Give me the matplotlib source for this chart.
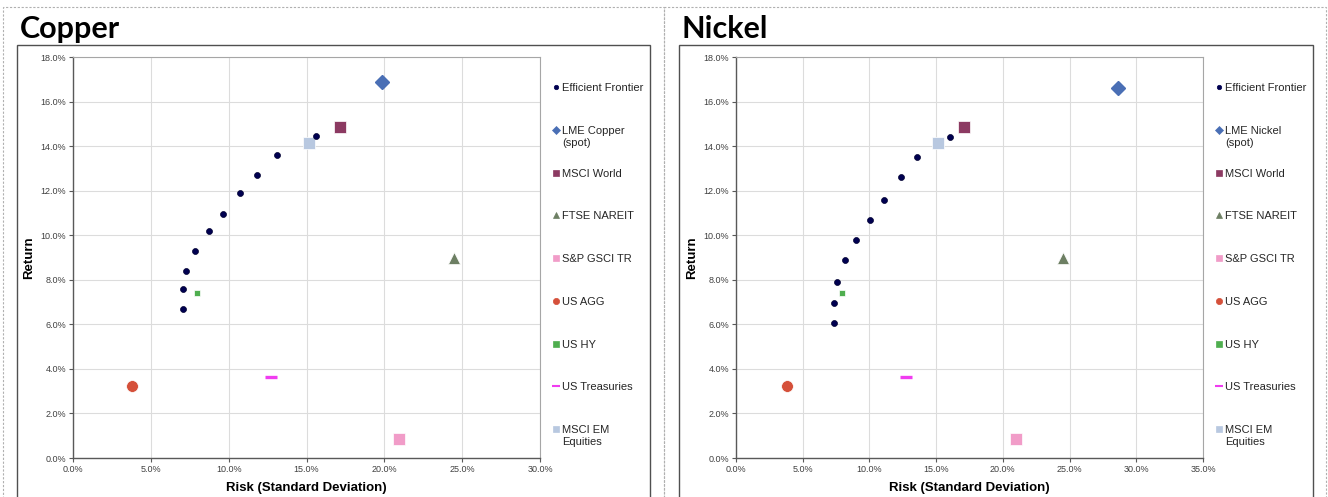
import matplotlib.pyplot as plt
import matplotlib.ticker as mticker
from matplotlib.patches import Rectangle

plt.rcParams['font.family'] = ['Liberation Sans', 'DejaVu Sans']

# risk / return in percent
cu_frontier_x = [7.05, 7.08, 7.28, 7.84, 8.73, 9.65, 10.71, 11.80, 13.12, 15.61]
cu_frontier_y = [6.70, 7.60, 8.39, 9.29, 10.17, 10.96, 11.91, 12.70, 13.60, 14.47]
ni_frontier_x = [7.31, 7.36, 7.59, 8.16, 9.03, 10.08, 11.09, 12.33, 13.56, 16.03]
ni_frontier_y = [6.07, 6.97, 7.90, 8.90, 9.80, 10.69, 11.59, 12.60, 13.50, 14.39]
cu_metal = (19.87, 16.86)
ni_metal = (28.64, 16.61)

asset_names = ['MSCI World', 'FTSE NAREIT', 'S&P GSCI TR', 'US AGG', 'US HY',
               'US Treasuries', 'MSCI EM\nEquities']
asset_risk = [17.12, 24.5, 20.97, 3.81, 7.98, 12.75, 15.15]
asset_ret = [14.84, 8.98, 0.87, 3.25, 7.39, 3.64, 14.15]

# marker, colour, size in chart, size in legend
asset_style = {
    'MSCI World': ('s', '#8c3a62', 8.5, 4.5),
    'FTSE NAREIT': ('^', '#6d7f63', 8.5, 4.5),
    'S&P GSCI TR': ('s', '#f19cc8', 8.5, 4.5),
    'US AGG': ('o', '#d5503a', 8.5, 4.5),
    'US HY': ('s', '#4fae4f', 4.0, 4.0),
    'US Treasuries': ('_', '#f03cf0', 9.0, 6.0),
    'MSCI EM\nEquities': ('s', '#b8c8e0', 8.5, 4.5),
}

panels = [
    ('Copper', 'LME Copper\n(spot)', cu_frontier_x, cu_frontier_y, cu_metal, 30, 17, 650, 73),
    ('Nickel', 'LME Nickel\n(spot)', ni_frontier_x, ni_frontier_y, ni_metal, 35, 679, 1313, 736),
]

W, H = 1328, 497
fig = plt.figure(figsize=(W / 100, H / 100), dpi=100)

# dashed panel outlines
for x0, x1 in [(3, 664), (664, 1326)]:
    fig.add_artist(Rectangle((x0 / W, -0.1), (x1 - x0) / W, (H - 7) / H + 0.1,
                             transform=fig.transFigure, fill=False,
                             ec='#b0b0b0', lw=0.8, ls=(0, (2, 1.5))))

for title, metal_name, fx, fy, metal, xmax, bx0, bx1, ax_left in panels:
    # chart box
    fig.add_artist(Rectangle((bx0 / W, -0.1), (bx1 - bx0) / W, (H - 45) / H + 0.1,
                             transform=fig.transFigure, fill=False,
                             ec='#505050', lw=1.0))
    fig.text((bx0 + 3) / W, (H - 38) / H, title, fontsize=22, fontweight='bold',
             family='Lato', ha='left', va='baseline')

    ax = fig.add_axes([ax_left / W, (H - 458) / H, 467 / W, 401 / H])
    ax.set_xlim(0, xmax)
    ax.set_ylim(0, 18)
    ax.xaxis.set_major_locator(mticker.MultipleLocator(5))
    ax.yaxis.set_major_locator(mticker.MultipleLocator(2))
    fmt = mticker.FuncFormatter(lambda v, p: f'{v:.1f}%')
    ax.xaxis.set_major_formatter(fmt)
    ax.yaxis.set_major_formatter(fmt)
    ax.grid(True, color='#dcdcdc', lw=0.8)
    ax.set_axisbelow(True)
    for s in ['top', 'right']:
        ax.spines[s].set_color('#a6a6a6')
        ax.spines[s].set_linewidth(0.8)
    for s in ['left', 'bottom']:
        ax.spines[s].set_color('#595959')
        ax.spines[s].set_linewidth(1.0)
    ax.tick_params(labelsize=6.5, labelcolor='#404040', length=3, width=0.8,
                   color='#595959', pad=2)
    ax.set_xlabel('Risk (Standard Deviation)', fontsize=9.5, fontweight='bold', labelpad=6)
    ax.set_ylabel('Return', fontsize=9.5, fontweight='bold', labelpad=4)

    ax.plot(metal[0], metal[1], 'D', color='#4a6fb5', ms=6.8, mec='#4a6fb5', zorder=3)
    for name, xr, yr in zip(asset_names, asset_risk, asset_ret):
        m, c, ms, _ = asset_style[name]
        ax.plot(xr, yr, m, color=c, ms=ms, mew=2.4 if m == '_' else 0.5,
                mec=c if m == '_' else 'white', zorder=3)
    ax.plot(fx, fy, 'o', color='#000050', ms=4.3, mec='#000030', mew=0.5, zorder=4)

    # legend column
    names = ['Efficient Frontier', metal_name] + asset_names
    lg = fig.add_axes([(ax_left + 480) / W, (H - 429) / H, 100 / W, 342 / H])
    lg.set_xlim(0, 1)
    lg.set_ylim(8, 0)
    lg.axis('off')
    for i, name in enumerate(names):
        if i == 0:
            m, c, ms, mec = 'o', '#000050', 3.2, '#000050'
        elif i == 1:
            m, c, ms, mec = 'D', '#4a6fb5', 3.8, '#4a6fb5'
        else:
            m, c, _, ms = asset_style[name]
            mec = c
        lg.plot(0.03, i, m, color=c, ms=ms, mec=mec, mew=1.5 if m == '_' else 0.5,
                clip_on=False)
        lg.text(0.09, i - 0.09, name, fontsize=8, color='#262626', ha='left',
                va='top', linespacing=1.25)

fig.savefig('out.png', dpi=100)
